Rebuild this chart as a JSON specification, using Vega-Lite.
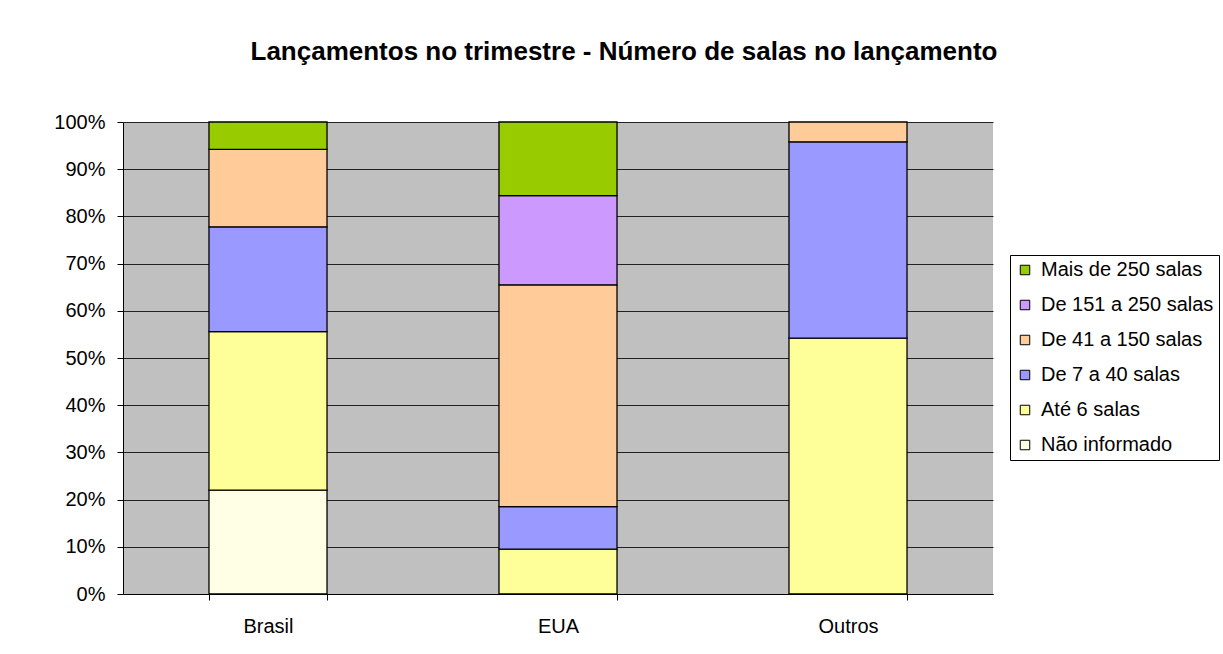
{
  "$schema": "https://vega.github.io/schema/vega-lite/v6.json",
  "width": 870,
  "height": 472,
  "autosize": {"type": "none"},
  "padding": {"left": 123, "top": 122, "right": 230, "bottom": 60},
  "background": "white",
  "title": {
    "text": "Lançamentos no trimestre - Número de salas no lançamento",
    "font": "Liberation Sans",
    "fontSize": 26,
    "fontWeight": "bold",
    "color": "black",
    "anchor": "middle",
    "frame": "group",
    "dx": 66,
    "offset": 47
  },
  "data": {
    "values": [
      {"regiao": "Brasil", "faixa": "Não informado", "ordem": 1, "pct": 22.0},
      {"regiao": "Brasil", "faixa": "Até 6 salas", "ordem": 2, "pct": 33.6},
      {"regiao": "Brasil", "faixa": "De 7 a 40 salas", "ordem": 3, "pct": 22.2},
      {"regiao": "Brasil", "faixa": "De 41 a 150 salas", "ordem": 4, "pct": 16.4},
      {"regiao": "Brasil", "faixa": "Mais de 250 salas", "ordem": 6, "pct": 5.8},
      {"regiao": "EUA", "faixa": "Até 6 salas", "ordem": 2, "pct": 9.5},
      {"regiao": "EUA", "faixa": "De 7 a 40 salas", "ordem": 3, "pct": 9.0},
      {"regiao": "EUA", "faixa": "De 41 a 150 salas", "ordem": 4, "pct": 47.0},
      {"regiao": "EUA", "faixa": "De 151 a 250 salas", "ordem": 5, "pct": 18.9},
      {"regiao": "EUA", "faixa": "Mais de 250 salas", "ordem": 6, "pct": 15.6},
      {"regiao": "Outros", "faixa": "Até 6 salas", "ordem": 2, "pct": 54.2},
      {"regiao": "Outros", "faixa": "De 7 a 40 salas", "ordem": 3, "pct": 41.6},
      {"regiao": "Outros", "faixa": "De 41 a 150 salas", "ordem": 4, "pct": 4.2}
    ]
  },
  "mark": {"type": "bar", "stroke": "black", "strokeWidth": 1.3},
  "encoding": {
    "x": {
      "field": "regiao",
      "type": "nominal",
      "sort": ["Brasil", "EUA", "Outros"],
      "scale": {"paddingInner": 0.593, "paddingOuter": 0.2965},
      "axis": {
        "title": null,
        "labelAngle": 0,
        "labelFont": "Liberation Sans",
        "labelFontSize": 20,
        "labelColor": "black",
        "labelPadding": 16,
        "tickBand": "extent",
        "tickSize": 6,
        "tickColor": "black",
        "domainColor": "black",
        "grid": false
      }
    },
    "y": {
      "field": "pct",
      "type": "quantitative",
      "stack": "zero",
      "scale": {"domain": [0, 100], "nice": false},
      "axis": {
        "title": null,
        "values": [0, 10, 20, 30, 40, 50, 60, 70, 80, 90, 100],
        "labelExpr": "datum.value + '%'",
        "labelFont": "Liberation Sans",
        "labelFontSize": 20,
        "labelColor": "black",
        "labelPadding": 12,
        "tickSize": 6,
        "tickColor": "black",
        "domainColor": "black",
        "grid": true,
        "gridColor": "#222222",
        "gridWidth": 1
      }
    },
    "color": {
      "field": "faixa",
      "type": "nominal",
      "scale": {
        "domain": ["Mais de 250 salas", "De 151 a 250 salas", "De 41 a 150 salas", "De 7 a 40 salas", "Até 6 salas", "Não informado"],
        "range": ["#99CC00", "#CC99FF", "#FFCC99", "#9999FF", "#FFFF99", "#FFFFE6"]
      },
      "legend": {
        "title": null,
        "orient": "none",
        "legendX": 887,
        "legendY": 133,
        "fillColor": "white",
        "strokeColor": "black",
        "padding": 5,
        "symbolType": "square",
        "symbolSize": 90,
        "symbolStrokeColor": "black",
        "symbolStrokeWidth": 1,
        "labelFont": "Liberation Sans",
        "labelFontSize": 20,
        "labelColor": "black",
        "labelOffset": 6,
        "rowPadding": 15,
        "labelLimit": 400
      }
    },
    "order": {"field": "ordem", "type": "quantitative", "sort": "ascending"}
  },
  "config": {
    "view": {"fill": "#C0C0C0", "stroke": null}
  }
}
